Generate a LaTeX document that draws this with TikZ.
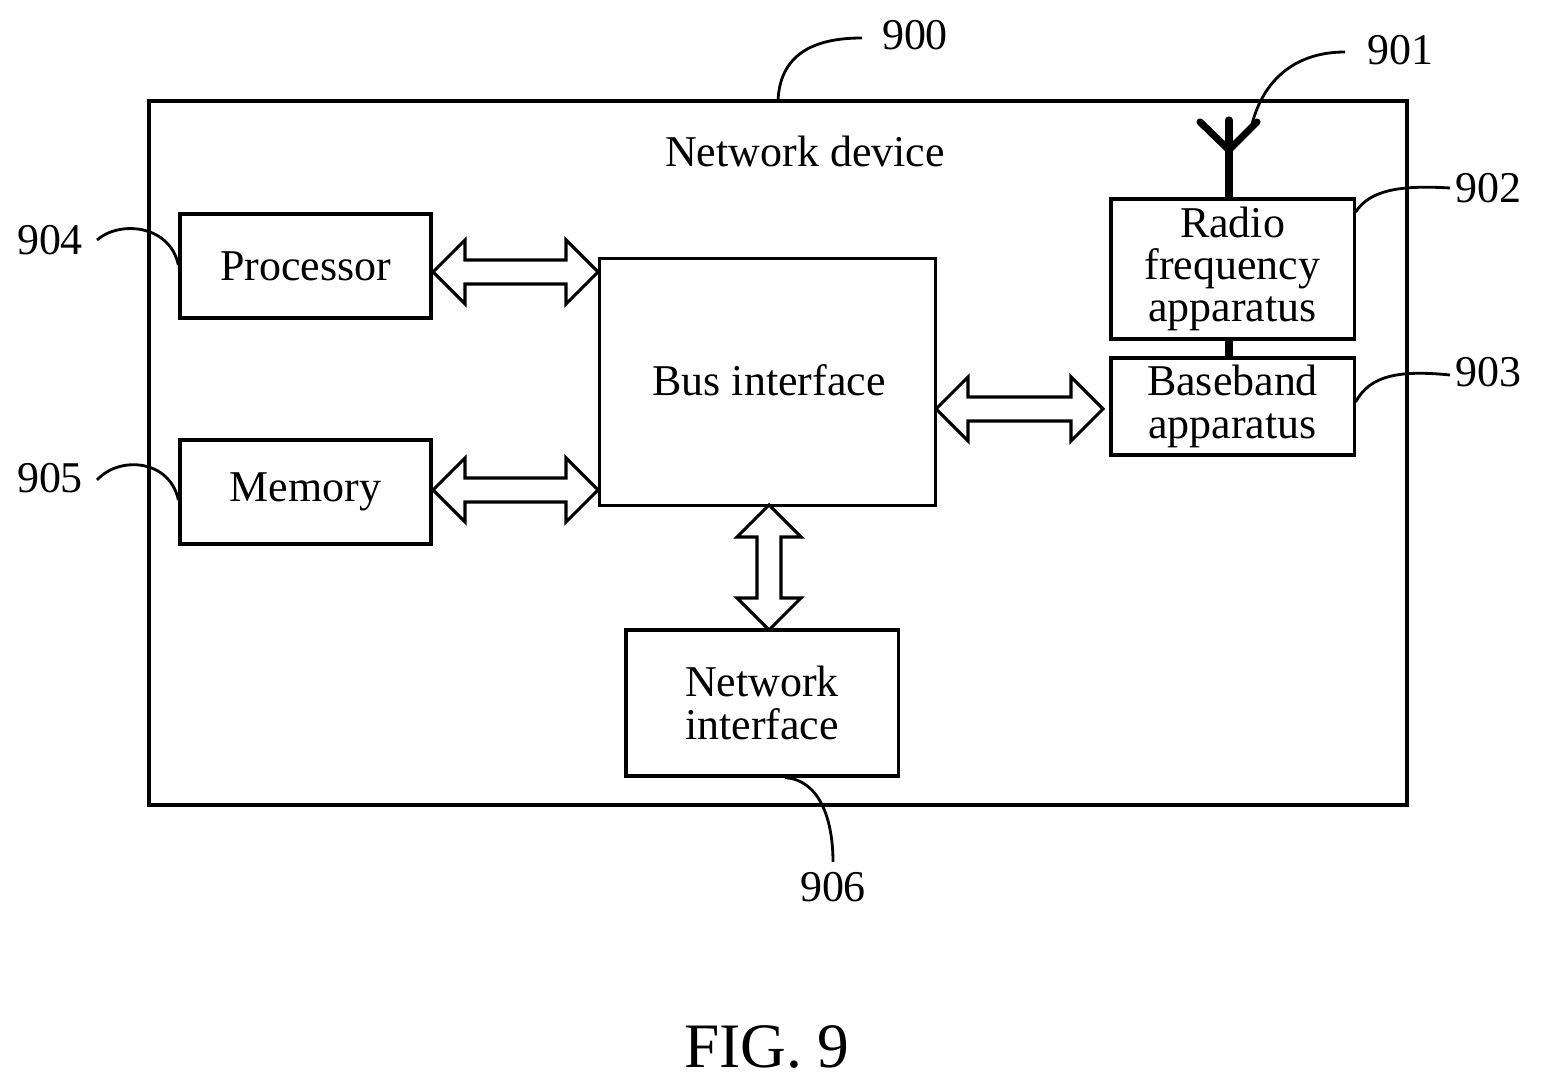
\documentclass[tikz,border=0pt]{standalone}
\usepackage{fontspec}
\setmainfont{Liberation Serif}
\usetikzlibrary{calc}
\tikzset{
  box/.style={draw, line width=0.9pt, inner sep=0pt, align=center, font=\fontsize{12.5}{13}\selectfont},
  pics/bus/.style={code={
    \draw[line width=0.9pt, line join=miter] (0,0) -- (32,-32) -- (32,-12) -- (#1-32,-12) -- (#1-32,-32)
      -- (#1,0) -- (#1-32,32) -- (#1-32,12) -- (32,12) -- (32,32) -- cycle;}},
  lead/.style={line width=0.8pt},
  num/.style={font=\fontsize{12.5}{13}\selectfont}
}
\begin{document}
\begin{tikzpicture}[x=0.01cm, y=-0.01cm]
  \useasboundingbox (0,0) rectangle (1542,1089);
  % frame
  \draw[line width=0.9pt] (149,101) rectangle (1407,805);
  \node[num] at (805,151) {Network device};

  % blocks
  \node[box, minimum width=2.51cm, minimum height=1.04cm] (proc) at (305.5,266) {Processor};
  \node[box, minimum width=2.51cm, minimum height=1.04cm] (mem) at (305.5,492) {Memory};
  \node[box, minimum width=3.36cm, minimum height=2.47cm, anchor=north west] (bus) at (598,257) {};
  \node[num] at (769,380) {Bus interface};
  \node[box, minimum width=2.43cm, minimum height=1.40cm] (rf) at (1232.5,269) {Radio\\[-1pt]frequency\\[-1pt]apparatus};
  \node[box, minimum width=2.43cm, minimum height=0.97cm] (bb) at (1232.5,406.5) {Baseband\\[-1pt]apparatus};
  \node[box, minimum width=2.72cm, minimum height=1.46cm] (net) at (762,703) {Network\\[-1pt]interface};

  % antenna
  \coordinate (ant) at (1229,150);
  \draw[line width=2pt, line cap=round] (rf.north -| ant) -- (1229,120);
  \draw[line width=2pt, line cap=round] (1200,122) -- (ant) -- (1257,122);
  \draw[line width=2pt] (rf.south -| ant) -- (bb.north -| ant);

  % bus arrows
  \pic at (433,272) {bus=165};
  \pic at (433,490) {bus=165};
  \pic at (936,409) {bus=167};
  \pic[rotate=-90] at (769,505) {bus=125};

  % reference numerals
  \draw[lead] (778,101) .. controls (780,50) and (820,38) .. (862,38);
  \node[num] at (915,35) {900};
  \draw[lead] (1252,124) .. controls (1265,75) and (1300,52) .. (1345,52);
  \node[num] at (1400,50) {901};
  \draw[lead] (rf.east |- 0,212) .. controls (1370,190) and (1400,185) .. (1450,188);
  \node[num] at (1488,188) {902};
  \draw[lead] (bb.east |- 0,402) .. controls (1370,375) and (1400,370) .. (1450,375);
  \node[num] at (1488,372) {903};
  \draw[lead] (97,240) .. controls (120,220) and (170,225) .. (proc.west |- 0,265);
  \node[num] at (50,240) {904};
  \draw[lead] (97,480) .. controls (120,455) and (170,460) .. (mem.west |- 0,500);
  \node[num] at (50,478) {905};
  \draw[lead] (net.south -| 785,0) .. controls (820,780) and (833,820) .. (833,862);
  \node[num] at (833,887) {906};

  \node[font=\fontsize{18}{20}\selectfont] at (767,1047) {FIG. 9};
\end{tikzpicture}
\end{document}
